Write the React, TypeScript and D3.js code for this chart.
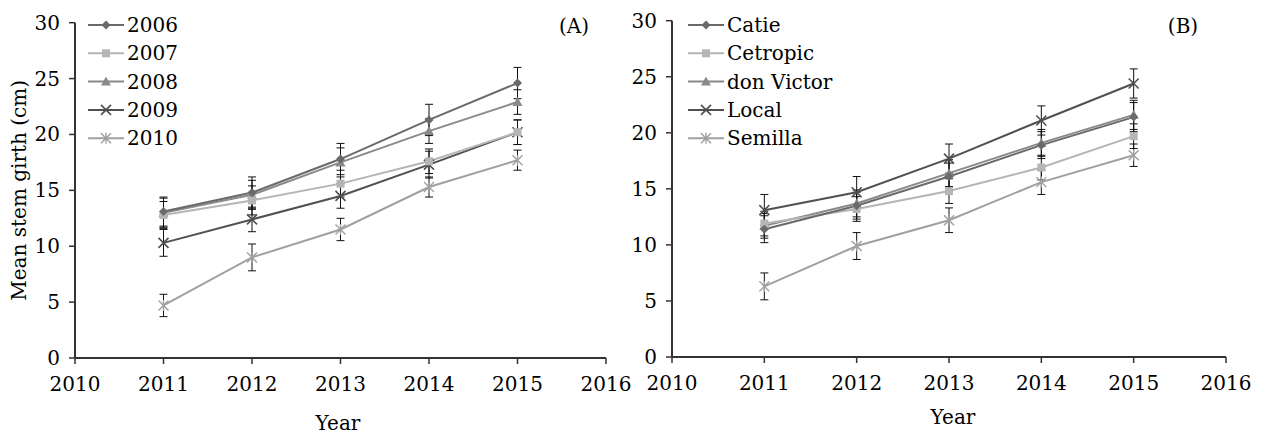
import React from "react";
import * as d3 from "d3";

const years = [2011, 2012, 2013, 2014, 2015];
const xTicks = [2010, 2011, 2012, 2013, 2014, 2015, 2016];
const yTicks = [0, 5, 10, 15, 20, 25, 30];

const namesA = ["2006", "2007", "2008", "2009", "2010"];
const s2006 = [13.1, 14.8, 17.8, 21.3, 24.6];
const s2007 = [12.8, 14.1, 15.6, 17.6, 20.2];
const s2008 = [13.0, 14.6, 17.5, 20.3, 22.9];
const s2009 = [10.3, 12.4, 14.5, 17.3, 20.2];
const s2010 = [4.7, 9.0, 11.5, 15.3, 17.7];
const e2006 = [1.3, 1.4, 1.4, 1.4, 1.4];
const e2007 = [1.2, 1.3, 1.2, 1.1, 1.1];
const e2008 = [1.3, 1.3, 1.3, 1.1, 1.1];
const e2009 = [1.2, 1.1, 1.1, 1.2, 1.1];
const e2010 = [1.0, 1.2, 1.0, 0.9, 0.9];

const namesB = ["Catie", "Cetropic", "don Victor", "Local", "Semilla"];
const sCatie = [11.4, 13.5, 16.1, 18.9, 21.4];
const sCetropic = [11.9, 13.2, 14.8, 16.9, 19.7];
const sDonVictor = [11.7, 13.7, 16.4, 19.1, 21.6];
const sLocal = [13.1, 14.7, 17.7, 21.1, 24.4];
const sSemilla = [6.3, 9.9, 12.2, 15.6, 18.0];
const eCatie = [1.2, 1.2, 1.2, 1.2, 1.3];
const eCetropic = [1.1, 1.1, 1.1, 1.1, 1.1];
const eDonVictor = [1.1, 1.2, 1.2, 1.2, 1.3];
const eLocal = [1.4, 1.4, 1.3, 1.3, 1.3];
const eSemilla = [1.2, 1.2, 1.1, 1.1, 1.0];

const colors = ["#6a6a6a", "#b5b5b5", "#8a8a8a", "#505050", "#a0a0a0"];
const shapes = ["diamond", "square", "triangle", "x", "asterisk"];

const FONT = "DejaVu Serif";

function Marker({ shape, x, y, color }: { shape: string; x: number; y: number; color: string }) {
  if (shape === "diamond") {
    const r = 4.5;
    return <path d={`M${x},${y - r}L${x + r},${y}L${x},${y + r}L${x - r},${y}Z`} fill={color} />;
  }
  if (shape === "square") {
    const r = 4;
    return <rect x={x - r} y={y - r} width={2 * r} height={2 * r} fill={color} />;
  }
  if (shape === "triangle") {
    const r = 5;
    return <path d={`M${x},${y - r}L${x + r},${y + r * 0.8}L${x - r},${y + r * 0.8}Z`} fill={color} />;
  }
  if (shape === "x") {
    const r = 5;
    return (
      <path d={`M${x - r},${y - r}L${x + r},${y + r}M${x - r},${y + r}L${x + r},${y - r}`} stroke={color} strokeWidth={1.6} />
    );
  }
  const r = 5;
  return (
    <path
      d={`M${x - r},${y - r}L${x + r},${y + r}M${x - r},${y + r}L${x + r},${y - r}M${x},${y - r * 1.1}L${x},${y + r * 1.1}`}
      stroke={color}
      strokeWidth={1.4}
    />
  );
}

type PanelProps = {
  x0: number;
  x1: number;
  y0: number;
  y1: number;
  names: string[];
  series: number[][];
  errors: number[][];
  label: string;
  labelX: number;
  legendLineX: number;
  yTitle?: boolean;
  xTitleX: number;
  xTitleY: number;
  tickLabelY: number;
};

function Panel(p: PanelProps) {
  const x = d3.scaleLinear().domain([2010, 2016]).range([p.x0, p.x1]);
  const y = d3.scaleLinear().domain([0, 30]).range([p.y0, p.y1]);
  const line = d3
    .line<number>()
    .x((_, i) => x(years[i]))
    .y((d) => y(d));
  const order = [4, 3, 2, 1, 0];
  return (
    <g fontFamily={FONT} fill="#000">
      <line x1={p.x0} x2={p.x0} y1={y(0)} y2={y(30)} stroke="#333" strokeWidth={2} />
      <line x1={p.x0} x2={p.x1} y1={y(0)} y2={y(0)} stroke="#333" strokeWidth={2} />
      {yTicks.map((t) => (
        <g key={"y" + t}>
          <line x1={p.x0 - 6} x2={p.x0} y1={y(t)} y2={y(t)} stroke="#333" strokeWidth={1.5} />
          <text x={p.x0 - 15} y={y(t) + 7} textAnchor="end" fontSize={20}>
            {t}
          </text>
        </g>
      ))}
      {xTicks.map((t) => (
        <g key={"x" + t}>
          <line x1={x(t)} x2={x(t)} y1={y(0)} y2={y(0) + 6} stroke="#333" strokeWidth={1.5} />
          <text x={x(t)} y={p.tickLabelY} textAnchor="middle" fontSize={20}>
            {t}
          </text>
        </g>
      ))}
      {order.map((si) =>
        p.series[si].map((v, i) => {
          const cx = x(years[i]);
          const e = p.errors[si][i];
          return (
            <g key={`e${si}-${i}`} stroke="#111" strokeWidth={1}>
              <line x1={cx} x2={cx} y1={y(v + e)} y2={y(v - e)} />
              <line x1={cx - 4} x2={cx + 4} y1={y(v + e)} y2={y(v + e)} />
              <line x1={cx - 4} x2={cx + 4} y1={y(v - e)} y2={y(v - e)} />
            </g>
          );
        })
      )}
      {order.map((si) => (
        <path key={"l" + si} d={line(p.series[si]) || ""} fill="none" stroke={colors[si]} strokeWidth={2} />
      ))}
      {order.map((si) =>
        p.series[si].map((v, i) => (
          <Marker key={`m${si}-${i}`} shape={shapes[si]} x={x(years[i])} y={y(v)} color={colors[si]} />
        ))
      )}
      {p.names.map((n, i) => {
        const ly = 25 + i * 28.3;
        return (
          <g key={"lg" + i}>
            <line x1={p.legendLineX} x2={p.legendLineX + 36} y1={ly} y2={ly} stroke={colors[i]} strokeWidth={2} />
            <Marker shape={shapes[i]} x={p.legendLineX + 18} y={ly} color={colors[i]} />
            <text x={p.legendLineX + 39} y={ly + 7} fontSize={20}>
              {n}
            </text>
          </g>
        );
      })}
      <text x={p.labelX} y={33} fontSize={20} textAnchor="middle">
        {p.label}
      </text>
      <text x={p.xTitleX} y={p.xTitleY} fontSize={20} textAnchor="middle">
        Year
      </text>
      {p.yTitle && (
        <text transform={`translate(26,${(p.y0 + p.y1) / 2}) rotate(-90)`} fontSize={20} textAnchor="middle">
          Mean stem girth (cm)
        </text>
      )}
    </g>
  );
}

export default function App() {
  return (
    <div style={{ position: "absolute", left: 0, top: 0 }}>
      <svg width={1261} height={436} style={{ display: "block", background: "#fff" }}>
        <Panel
          x0={75}
          x1={606}
          y0={358}
          y1={22.7}
          names={namesA}
          series={[s2006, s2007, s2008, s2009, s2010]}
          errors={[e2006, e2007, e2008, e2009, e2010]}
          label="(A)"
          labelX={574}
          legendLineX={88}
          yTitle
          xTitleX={338}
          xTitleY={430}
          tickLabelY={391}
        />
        <Panel
          x0={672}
          x1={1226}
          y0={357}
          y1={20.7}
          names={namesB}
          series={[sCatie, sCetropic, sDonVictor, sLocal, sSemilla]}
          errors={[eCatie, eCetropic, eDonVictor, eLocal, eSemilla]}
          label="(B)"
          labelX={1183}
          legendLineX={688}
          xTitleX={953}
          xTitleY={424}
          tickLabelY={390}
        />
      </svg>
    </div>
  );
}
